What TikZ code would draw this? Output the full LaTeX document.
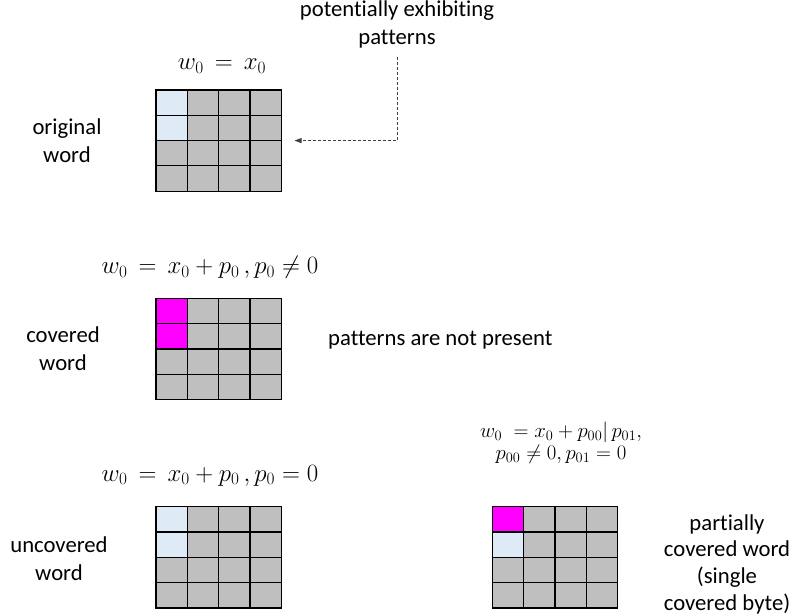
\documentclass[tikz,border=0pt]{standalone}
\usepackage{fontspec}
\setmainfont{Carlito}[Ligatures={NoCommon}]
\usetikzlibrary{arrows.meta}
\definecolor{cellgray}{HTML}{BFBFBF}
\definecolor{cellblue}{HTML}{DEEBF7}
\definecolor{cellmag}{HTML}{FF00FF}
\newcommand\cellw{31.3}
\newcommand\cellh{25.3}
\newcommand\stackc[1]{\begin{tabular}[t]{@{}c@{}}#1\end{tabular}}
\newcommand\wordgrid[4]{%
  \node[gridbox] (#1) at (#2) {};
  \fill[#3] (#1.north west) rectangle ++(\cellw,\cellh);
  \fill[#4] ([yshift=-\cellh pt]#1.north west) rectangle ++(\cellw,\cellh);
  \foreach \i in {0,...,4}{%
    \draw[gridline] ([xshift={\i*\cellw*1pt}]#1.north west) -- ([xshift={\i*\cellw*1pt}]#1.south west);
    \draw[gridline] ([yshift={-\i*\cellh*1pt}]#1.north west) -- ([yshift={-\i*\cellh*1pt}]#1.north east);
  }%
}
\tikzset{
  gridbox/.style={minimum width=125.2pt, minimum height=101.2pt, inner sep=0pt, outer sep=0pt, fill=cellgray, anchor=north west},
  gridline/.style={line width=1.2pt, black, line cap=rect},
  lbl/.style={font=\fontsize{22.7}{28}\selectfont, inner sep=0pt, anchor=base},
  rlbl/.style={font=\fontsize{22.7}{26.7}\selectfont, inner sep=0pt, anchor=base},
  eq/.style={font=\fontsize{25}{30}\selectfont, inner sep=0pt, anchor=base},
  eqsmall/.style={font=\fontsize{22}{20}\selectfont, inner sep=0pt, anchor=base},
  hint/.style={densely dashed, line width=0.7pt, black!75, -{Triangle[length=7pt,width=5pt]}}
}
\begin{document}
\begin{tikzpicture}[x=1pt, y=-1pt]
\useasboundingbox (0,0) rectangle (793,615);
\fill[white] (0,0) rectangle (793,615);

% grids
\wordgrid{g1}{156,90}{cellblue}{cellblue}
\wordgrid{g2}{156,298.3}{cellmag}{cellmag}
\wordgrid{g3}{156,506.7}{cellblue}{cellblue}
\wordgrid{g4}{492.3,506.7}{cellmag}{cellblue}

% equations
\node[eq] (e1) at (222,70) {$w_0 \,=\, x_0$};
\node[eq] (e2) at (210,273.5) {$w_0 \,=\, x_0 + p_0\,, p_0 \neq 0$};
\node[eq] (e3) at (210,481) {$w_0 \,=\, x_0 + p_0\,, p_0 = 0$};
\node[eqsmall] (e4) at (561,437.5) {\stackc{$w_0 \;= x_0 + p_{00}|\,p_{01},$\\[1.2pt] $p_{00} \neq 0, p_{01} = 0$}};

% labels
\node[lbl] (l1) at (67,135) {\stackc{original\\word}};
\node[lbl] (l2) at (63,342.5) {\stackc{covered\\word}};
\node[lbl] (l3) at (59,552) {\stackc{uncovered\\word}};
\node[rlbl] (l4) at (727,530) {\stackc{partially\\covered word\\(single\\covered byte)}};
\node[lbl, anchor=base west] (np) at (328,345) {patterns are not present};
\node[lbl] (pat) at (397,17) {\stackc{potentially exhibiting\\patterns}};

% hint arrow
\draw[hint] ([yshift=-3.5pt]pat.south) |- ([xshift=13.3pt]g1.east);
\end{tikzpicture}
\end{document}
